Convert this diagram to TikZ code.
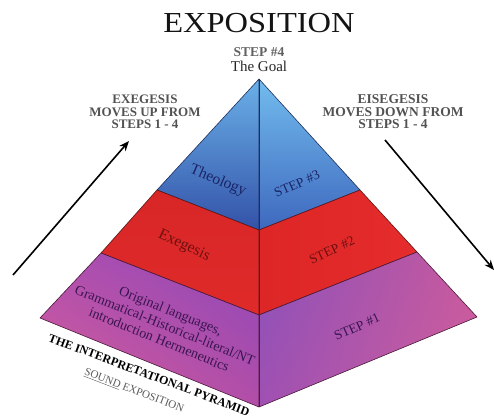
\documentclass[tikz,border=0pt]{standalone}
\usepackage{fontspec}
\setmainfont{Liberation Serif}
\usetikzlibrary{arrows.meta,shadings}
\definecolor{edgeblue}{HTML}{1E2E5E}
\definecolor{edgered}{HTML}{5A1616}
\definecolor{edgepurp}{HTML}{4A1838}
\definecolor{navytext}{HTML}{1A2466}
\definecolor{redtext}{HTML}{6E1010}
\definecolor{purptext}{HTML}{3A1450}
\definecolor{bA}{HTML}{6AB0E8}
\definecolor{bB}{HTML}{3352A8}
\definecolor{bC}{HTML}{72BCEE}
\definecolor{bD}{HTML}{3E68BE}
\definecolor{rA}{HTML}{D82626}
\definecolor{rB}{HTML}{E02A2A}
\definecolor{rC}{HTML}{DD2626}
\definecolor{rD}{HTML}{E62C2C}
\definecolor{pA}{HTML}{B04FAE}
\definecolor{pB}{HTML}{8E48BA}
\definecolor{pC}{HTML}{DA5E98}
\definecolor{pD}{HTML}{B24EA8}
\definecolor{qA}{HTML}{8A52BA}
\definecolor{qB}{HTML}{C8589E}
\definecolor{qC}{HTML}{A050B2}
\definecolor{qD}{HTML}{D0609C}
\tikzset{
  face/.style={line width=0.6pt, line join=round},
  toplabel/.style={font=\bfseries\fontsize{13}{14}\selectfont, text=black!68, align=center, inner sep=0pt},
  facelabel/.style={inner sep=0pt, font=\fontsize{15.5}{16}\selectfont},
  steplabel/.style={inner sep=0pt, font=\fontsize{13.5}{14}\selectfont},
  bigarrow/.style={-{Stealth[length=10pt,width=8pt]}, line width=1.6pt, black}
}
\begin{document}
\begin{tikzpicture}[x=1pt,y=-1pt]
\useasboundingbox (0,0) rectangle (494,419);
% key points
\coordinate (apex) at (259,79);
\coordinate (L3) at (157,190);
\coordinate (C3) at (259,230);
\coordinate (R3) at (360,190);
\coordinate (L2) at (101,253);
\coordinate (C2) at (259,315);
\coordinate (R2) at (417,252);
\coordinate (L1) at (40,318);
\coordinate (C1) at (259,407);
\coordinate (R1) at (477,317);
% top tier (blue)
\shade[top color=bA, bottom color=bB] (apex) -- (L3) -- (C3) -- cycle;
\shade[top color=bC, bottom color=bD] (apex) -- (C3) -- (R3) -- cycle;
\draw[face, draw=edgeblue] (apex) -- (L3) -- (C3) -- cycle (C3) -- (R3) -- (apex);
% middle tier (red)
\shade[top color=rA, bottom color=rB] (L3) -- (C3) -- (C2) -- (L2) -- cycle;
\shade[left color=rC, right color=rD] (C3) -- (R3) -- (R2) -- (C2) -- cycle;
\draw[face, draw=edgered] (L3) -- (C3) -- (C2) -- (L2) -- cycle (C3) -- (R3) -- (R2) -- (C2);
% bottom tier (purple)
\shade[upper left=pA, upper right=pB, lower left=pC, lower right=pD] (L2) -- (C2) -- (C1) -- (L1) -- cycle;
\shade[upper left=qA, upper right=qB, lower left=qC, lower right=qD] (C2) -- (R2) -- (R1) -- (C1) -- cycle;
\draw[face, draw=edgepurp] (L2) -- (C2) -- (C1) -- (L1) -- cycle (C2) -- (R2) -- (R1) -- (C1);
\draw[draw=edgeblue, line width=0.7pt] (apex) -- (C1);
% titles
\node[font=\fontsize{29}{30}\selectfont, text=black!92, xscale=1.12, inner sep=0pt] (title) at (259,23) {EXPOSITION};
\node[inner sep=0pt, font=\bfseries\fontsize{13.5}{14}\selectfont, text=black!62] (step4) at (259,52) {STEP \#4};
\node[inner sep=0pt, font=\fontsize{15}{16}\selectfont, text=black!85] (goal) at (259,66) {The Goal};
\node[toplabel] (exe) at (145,112) {EXEGESIS\\[-1.5pt]MOVES UP FROM\\[-1.5pt]STEPS 1 - 4};
\node[toplabel, font=\bfseries\fontsize{13.5}{14}\selectfont] (eis) at (393,112) {EISEGESIS\\[-1.5pt]MOVES DOWN FROM\\[-1.5pt]STEPS 1 - 4};
% arrows
\coordinate (la0) at (13,275);
\coordinate (la1) at (129,141);
\coordinate (ra0) at (385,140);
\coordinate (ra1) at (494,270);
\draw[bigarrow] (la0) -- (la1);
\draw[bigarrow] (ra0) -- (ra1);
% face labels
\node[facelabel, text=navytext, rotate=-23] (theo) at (218,181) {Theology};
\node[facelabel, text=redtext, rotate=-25] (exeg) at (184,246) {Exegesis};
\node[steplabel, text=navytext, rotate=24] (s3) at (297,184) {STEP \#3};
\node[steplabel, text=redtext, rotate=25] (s2) at (332,250) {STEP \#2};
\node[steplabel, text=purptext, rotate=24] (s1) at (357,327) {STEP \#1};
\node[inner sep=0pt, align=center, text=purptext, rotate=-22, font=\fontsize{14}{15.5}\selectfont] (orig) at (165,325) {Original languages,\\Grammatical-Historical-literal/NT\\introduction Hermeneutics};
\node[inner sep=0pt, rotate=-20.5, font=\bfseries\fontsize{12}{13}\selectfont, text=black] (pyr) at (149,375) {THE INTERPRETATIONAL PYRAMID};
\node[inner sep=0pt, rotate=-21, font=\fontsize{11}{12}\selectfont, text=black!65] (sound) at (134,391) {\underline{SOUND} EXPOSITION};
\end{tikzpicture}
\end{document}
